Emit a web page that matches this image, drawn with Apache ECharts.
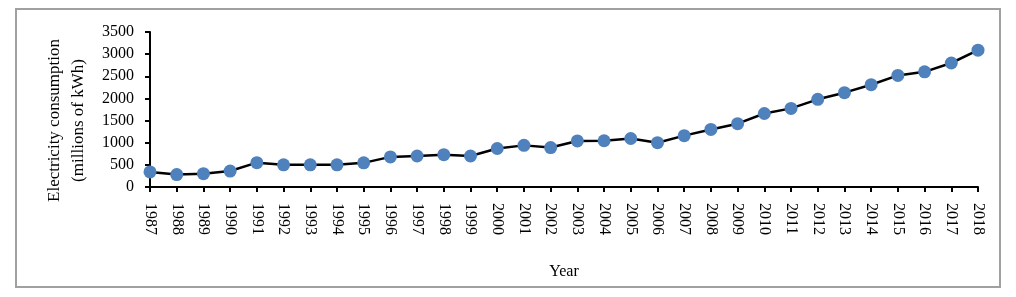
<!DOCTYPE html>
<html>
<head>
<meta charset="utf-8">
<script src="https://cdn.jsdelivr.net/npm/echarts@6/dist/echarts.min.js"></script>
<style>
  html, body { margin: 0; padding: 0; background: #fff; }
  #main { width: 1016px; height: 297px; }
</style>
</head>
<body>
<div id="main"></div>
<script>
const years = ['1987', '1988', '1989', '1990', '1991', '1992', '1993', '1994', '1995', '1996',
  '1997', '1998', '1999', '2000', '2001', '2002', '2003', '2004', '2005', '2006',
  '2007', '2008', '2009', '2010', '2011', '2012', '2013', '2014', '2015', '2016',
  '2017', '2018'];
const consumption = [340, 280, 300, 360, 550, 500, 500, 500, 545, 680,
  700, 730, 700, 870, 940, 890, 1040, 1045, 1095, 1000,
  1160, 1300, 1430, 1660, 1775, 1980, 2130, 2310, 2520, 2600,
  2800, 3090];

const font = '"Liberation Serif", "Times New Roman", serif';

window.onload = function () {
  const dom = document.getElementById('main');
  const myChart = echarts.init(dom);
  const option = {
    animation: false,
    grid: {
      left: 150,
      right: 38,
      top: 32,
      bottom: 110
    },
    graphic: [{
      type: 'rect',
      shape: { x: 16, y: 9, width: 984, height: 278 },
      style: { fill: 'none', stroke: '#a0a0a0', lineWidth: 2 },
      silent: true
    }],
    xAxis: {
      type: 'category',
      data: years,
      boundaryGap: false,
      name: 'Year',
      nameLocation: 'middle',
      nameGap: 77,
      nameTextStyle: { fontFamily: font, fontSize: 16, color: '#000' },
      axisLine: { lineStyle: { color: '#000', width: 2 } },
      axisTick: { show: true, length: 5, lineStyle: { color: '#000', width: 2 }, alignWithLabel: true },
      axisLabel: {
        rotate: -90,
        interval: 0,
        margin: 16,
        fontFamily: font,
        fontSize: 16,
        color: '#000'
      }
    },
    yAxis: {
      type: 'value',
      min: 0,
      max: 3500,
      interval: 500,
      name: 'Electricity consumption\n(millions of kWh)',
      nameLocation: 'middle',
      nameGap: 59,
      nameRotate: 90,
      nameTextStyle: {
        fontFamily: font,
        fontSize: 17,
        color: '#000',
        lineHeight: 24,
        padding: [0, 22, 0, 0]
      },
      splitLine: { show: false },
      axisLine: { show: true, lineStyle: { color: '#000', width: 2 } },
      axisTick: { show: true, length: 5, lineStyle: { color: '#000', width: 2 } },
      axisLabel: {
        margin: 16,
        fontFamily: font,
        fontSize: 16,
        color: '#000',
        formatter: function (v) { return String(v); }
      }
    },
    series: [{
      type: 'line',
      data: consumption,
      symbol: 'circle',
      symbolSize: 13,
      lineStyle: { color: '#000', width: 2.5 },
      itemStyle: { color: '#4f81bd' }
    }]
  };
  myChart.setOption(option, true);
};
</script>
</body>
</html>
